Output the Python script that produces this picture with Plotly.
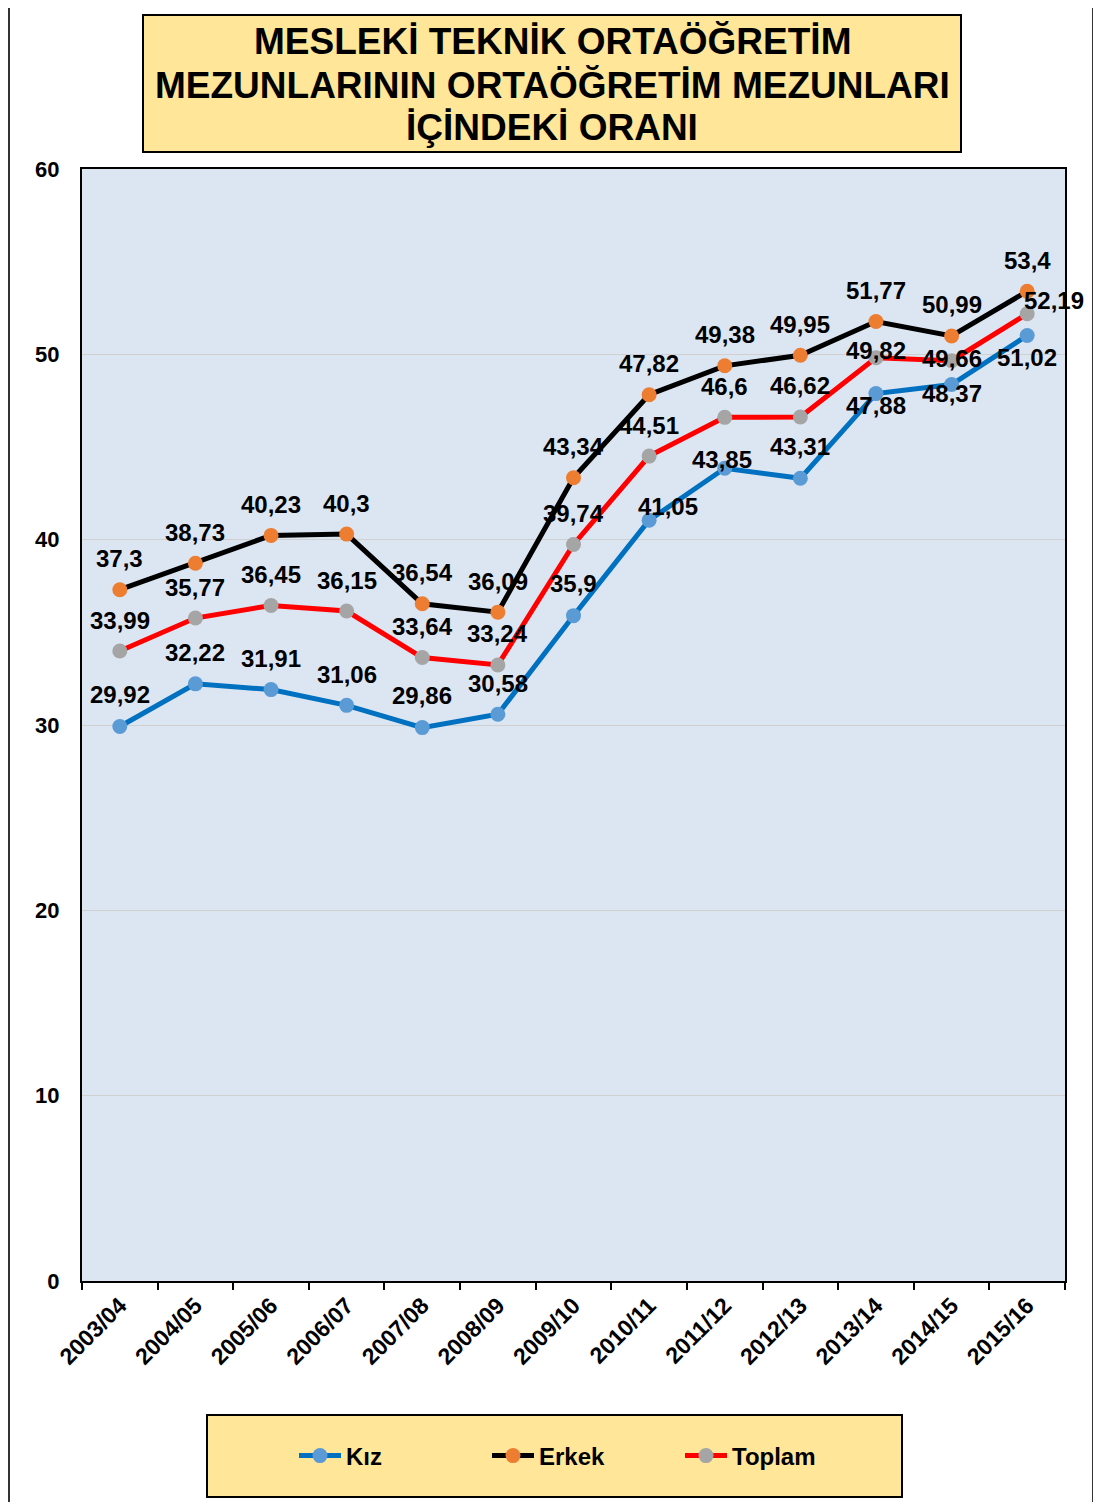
import plotly.graph_objects as go

categories = ["2003/04", "2004/05", "2005/06", "2006/07", "2007/08", "2008/09", "2009/10",
              "2010/11", "2011/12", "2012/13", "2013/14", "2014/15", "2015/16"]
kiz = [29.92, 32.22, 31.91, 31.06, 29.86, 30.58, 35.9, 41.05, 43.85, 43.31, 47.88, 48.37, 51.02]
erkek = [37.3, 38.73, 40.23, 40.3, 36.54, 36.09, 43.34, 47.82, 49.38, 49.95, 51.77, 50.99, 53.4]
toplam = [33.99, 35.77, 36.45, 36.15, 33.64, 33.24, 39.74, 44.51, 46.6, 46.62, 49.82, 49.66, 52.19]
y_ticks = [0, 10, 20, 30, 40, 50, 60]
title_lines = ["MESLEKİ TEKNİK ORTAÖĞRETİM", "MEZUNLARININ ORTAÖĞRETİM MEZUNLARI", "İÇİNDEKİ ORANI"]

# label offsets in pixels (dx, dy upward)
kiz_off = [(0, 32), (0, 31), (0, 31), (0, 31), (0, 32), (0, 31), (0, 32),
           (19, 14), (-3, 9), (0, 32), (0, -12), (0, -9), (0, -22)]
erkek_off = [(0, 31)] * 13
toplam_off = [(0, 31)] * 10 + [(0, 7), (0, 2), (27, 13)]

# page body has an 8px margin; reference coordinates are screen pixels
OFF = 8
W, H = 1101 - 2 * OFF, 1510 - 2 * OFF
L, R, T, B = 82, 1065, 169, 1281   # plot area in screen px
PW, PH = R - L, B - T


def px(x):
    return (x - L) / PW


def py(y):
    return (B - y) / PH


FONT = "Liberation Sans, Arial, sans-serif"

fig = go.Figure()
series = [
    ("Kız", kiz, "#0070C0", "#5B9BD5", kiz_off),
    ("Erkek", erkek, "#000000", "#ED7D31", erkek_off),
    ("Toplam", toplam, "#FF0000", "#A5A5A5", toplam_off),
]
for name, vals, lc, mc, offs in series:
    fig.add_trace(go.Scatter(
        x=categories, y=vals, name=name, mode="lines+markers",
        line=dict(color=lc, width=5),
        marker=dict(color=mc, size=15, line=dict(width=0)),
        hoverinfo="skip",
    ))

annotations = []
for name, vals, lc, mc, offs in series:
    for c, v, (dx, dy) in zip(categories, vals, offs):
        annotations.append(dict(
            x=c, y=v, xref="x", yref="y", text=f"<b>{str(v).replace('.', ',')}</b>",
            showarrow=False, xshift=dx, yshift=dy,
            font=dict(family=FONT, size=24, color="black"),
        ))

title_y = [41, 85, 127]
for t, yy in zip(title_lines, title_y):
    annotations.append(dict(
        x=px(552), y=py(yy), xref="paper", yref="paper", text=f"<b>{t}</b>",
        showarrow=False, xanchor="center", yanchor="middle",
        font=dict(family=FONT, size=37, color="black"),
    ))

shapes = [
    # outer border
    dict(type="rect", xref="paper", yref="paper", x0=px(9), x1=px(1093), y0=py(1530), y1=py(-20),
         line=dict(color="#333333", width=2), fillcolor="rgba(0,0,0,0)", layer="below"),
    # title box
    dict(type="rect", xref="paper", yref="paper", x0=px(143), x1=px(961), y0=py(152), y1=py(15),
         line=dict(color="#000000", width=2), fillcolor="#FFE699", layer="below"),
    # legend box
    dict(type="rect", xref="paper", yref="paper", x0=px(207), x1=px(902), y0=py(1497), y1=py(1415),
         line=dict(color="#000000", width=2), fillcolor="#FFE699", layer="below"),
]

fig.update_layout(
    width=W, height=H,
    margin=dict(l=L - OFF, r=W - (R - OFF), t=T - OFF, b=H - (B - OFF), autoexpand=False),
    paper_bgcolor="white", plot_bgcolor="#DCE6F2",
    showlegend=True,
    legend=dict(
        orientation="h", x=px(294), y=py(1456), xanchor="left", yanchor="middle",
        bgcolor="rgba(0,0,0,0)", borderwidth=0, itemwidth=42,
        font=dict(family=FONT, size=24, color="black", weight="bold"),
        entrywidth=136, entrywidthmode="pixels", traceorder="normal",
    ),
    annotations=annotations,
    shapes=shapes,
    xaxis=dict(
        type="category", tickson="boundaries", ticks="outside", ticklen=7, tickwidth=2,
        tickcolor="black", showline=True, linecolor="black", linewidth=2, mirror=True,
        showgrid=False, tickangle=-45,
        tickfont=dict(family=FONT, size=23, color="black", weight="bold"),
        range=[-0.5, 12.5],
    ),
    yaxis=dict(
        range=[0, 60], tickvals=y_ticks, showline=True, linecolor="black", linewidth=2,
        mirror=True, showgrid=True, gridcolor="#D0D0D0", gridwidth=1, zeroline=False,
        ticks="", ticklabelstandoff=16,
        tickfont=dict(family=FONT, size=22, color="black", weight="bold"),
    ),
)

fig.write_html("out.html")
